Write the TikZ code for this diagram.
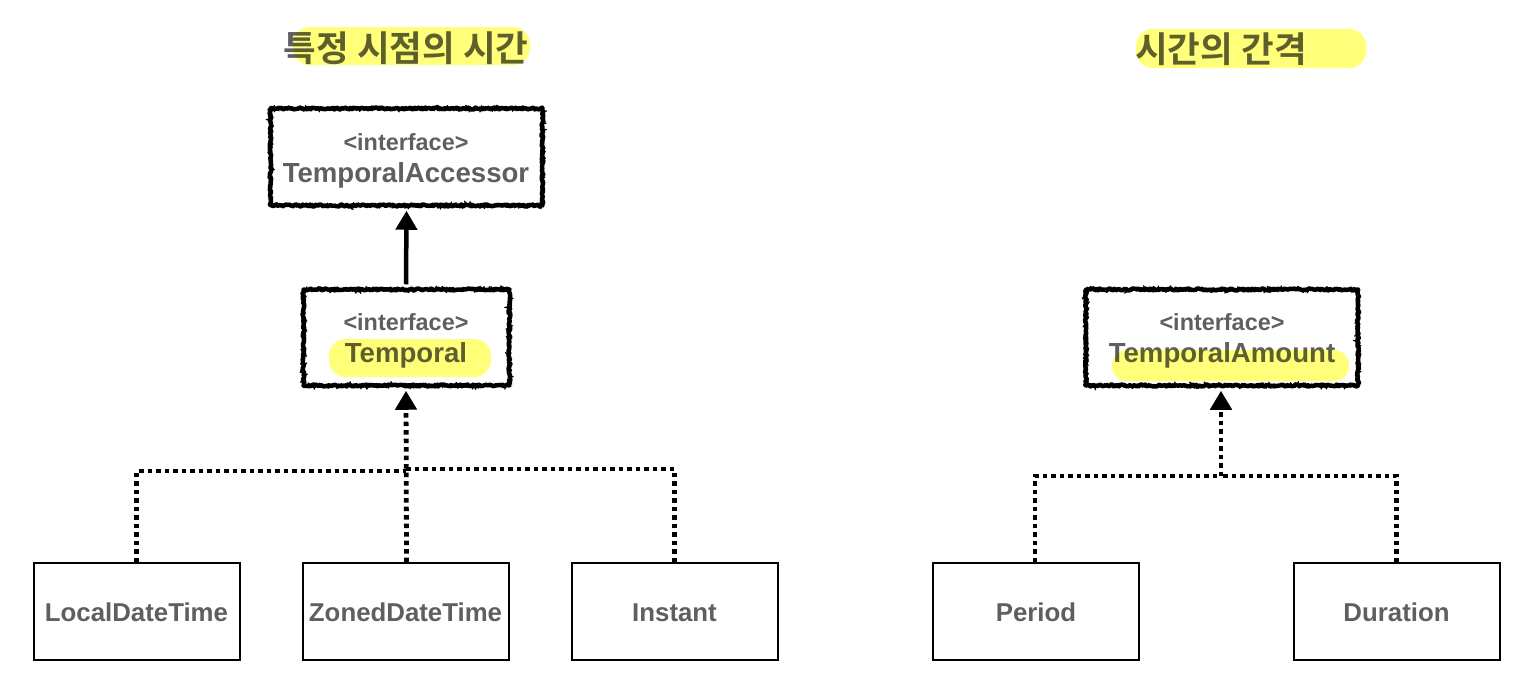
\documentclass[tikz,border=0pt]{standalone}
\usepackage{fontspec}
\setmainfont{Liberation Sans}[BoldFont={Liberation Sans Bold}]
\newfontfamily\krfont{Noto Sans CJK KR Bold}
\usetikzlibrary{decorations.pathmorphing,arrows.meta,calc}
\pgfmathsetseed{7}
\definecolor{inkgray}{HTML}{5F5F5F}
\definecolor{hilite}{HTML}{FFFF7A}
\tikzset{
  x=1pt,y=-1pt,
  plainbox/.style={draw=black,line width=2pt,minimum width=206pt,minimum height=97pt,inner sep=0pt,text height=25pt,text depth=6pt,font=\fontsize{25.8}{30}\selectfont\bfseries,text=inkgray},
  roughbox/.style={draw=black,line width=4.5pt,line join=round,inner sep=0pt,align=center,text=inkgray,
    decorate,decoration={random steps,segment length=1.2pt,amplitude=1pt},
    preaction={draw=black,line width=1pt,line join=round,decorate,decoration={random steps,segment length=1.2pt,amplitude=3.6pt}}},
  stereo/.style={font=\fontsize{23.4}{27}\selectfont\bfseries,text=inkgray},
  classname/.style={font=\fontsize{27.6}{32}\selectfont\bfseries,text=inkgray},
  titletext/.style={font=\fontsize{35.5}{40}\krfont,text=inkgray,inner sep=0pt},
  solidlink/.style={draw=black,line width=4.5pt,-{Triangle[length=19pt,width=21pt]}},
  dotlink/.style={draw=black,line width=4.8pt,dash pattern=on 4.5pt off 4pt},
  dotarrow/.style={dotlink,-{Triangle[length=19pt,width=21pt]}},
  mark highlight/.style={fill=hilite,blend mode=multiply,rounded corners=17pt},
}
\begin{document}
\begin{tikzpicture}
\useasboundingbox (0,0) rectangle (1533,675);
\fill[white] (0,0) rectangle (1533,675);
% titles
\node[titletext] (t1) at (406,48) {특정 시점의 시간};
\node[titletext] (t2) at (1221,49) {시간의 간격};
% interface boxes
\node[roughbox,minimum width=272pt,minimum height=97pt] (acc) at (406.5,157) {};
\node[roughbox,minimum width=206pt,minimum height=96pt] (tmp) at (406.5,337.5) {};
\node[roughbox,minimum width=272pt,minimum height=96pt] (amt) at (1222,337.5) {};
\node[stereo] (accs) at (406,142) {<interface>};
\node[classname] (accn) at (406,175) {TemporalAccessor};
\node[stereo] (tmps) at (406,322) {<interface>};
\node[classname] (tmpn) at (406,355) {Temporal};
\node[stereo] (amts) at (1222,322) {<interface>};
\node[classname] (amtn) at (1222,355) {TemporalAmount};
% class boxes
\node[plainbox] (ldt) at (136.5,611.5) {LocalDateTime};
\node[plainbox] (zdt) at (405.5,611.5) {ZonedDateTime};
\node[plainbox] (ins) at (674.5,611.5) {Instant};
\node[plainbox] (per) at (1036,611.5) {Period};
\node[plainbox] (dur) at (1396.5,611.5) {Duration};
% connectors
\coordinate (jl) at (406,471);
\coordinate (jr) at (406,469);
\coordinate (ja) at (1221,476);
\draw[solidlink] (tmp.north -| accn) ++(0,-3) -- ($(acc.south)+(0,3)$);
\draw[dotarrow] (zdt.north) ++(1,0) -- ($(tmp.south)+(-0.5,3)$);
\draw[dotlink] (ldt.north) -- (ldt.north |- jl) -- (jl);
\draw[dotlink] (ins.north) -- (ins.north |- jr) -- (jr);
\draw[dotarrow] (ja) -- ($(amt.south)+(-1,3)$);
\draw[dotlink] ($(per.north)+(-1,0)$) -- ($(per.north |- ja)+(-1,0)$) -- (ja);
\draw[dotlink] (dur.north) -- (dur.north |- ja) -- (ja);
% highlights
\fill[mark highlight] (293,27) rectangle (530,65);
\fill[mark highlight] (1136,29) rectangle (1366,68);
\fill[mark highlight] (329,339) rectangle (491,377);
\fill[mark highlight,rounded corners=15pt] (1112,350) rectangle (1349,381);
\end{tikzpicture}
\end{document}
